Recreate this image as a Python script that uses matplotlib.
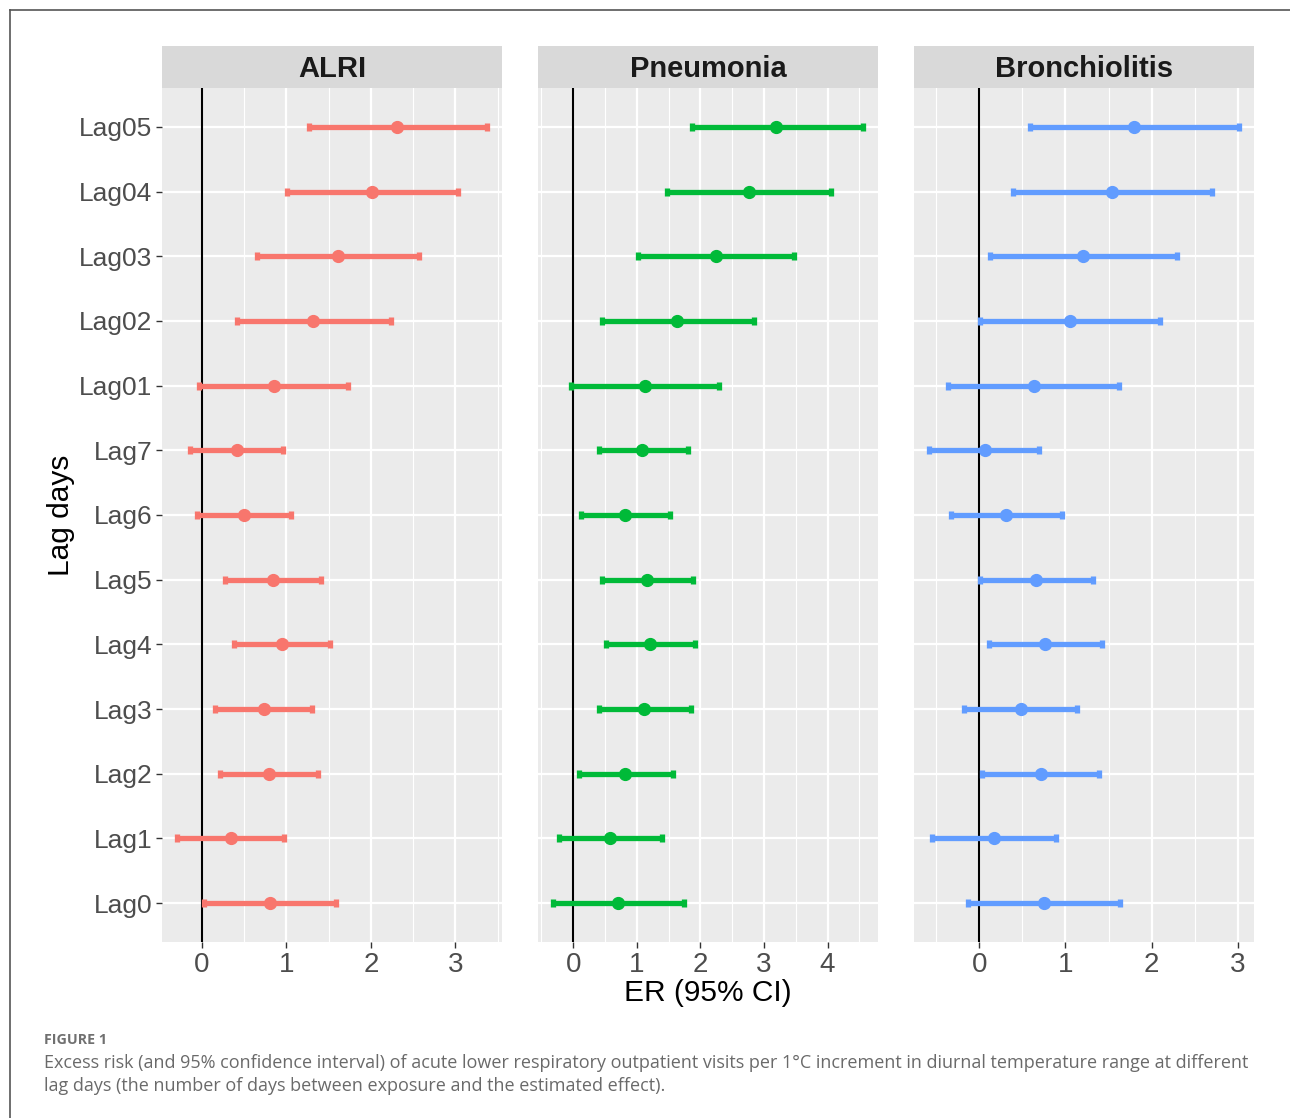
import matplotlib
matplotlib.use("Agg")
import matplotlib.pyplot as plt
from matplotlib.lines import Line2D
import numpy as np

# ---------------- data ----------------
lags = ["Lag0", "Lag1", "Lag2", "Lag3", "Lag4", "Lag5", "Lag6", "Lag7",
        "Lag01", "Lag02", "Lag03", "Lag04", "Lag05"]
panels = ["ALRI", "Pneumonia", "Bronchiolitis"]
colors = ["#F8766D", "#00BA38", "#619CFF"]

alri_est = [0.81, 0.34, 0.79, 0.73, 0.95, 0.84, 0.50, 0.41, 0.855, 1.32, 1.61, 2.01, 2.31]
alri_lo = [0.03, -0.29, 0.21, 0.16, 0.38, 0.27, -0.06, -0.145, -0.03, 0.41, 0.65, 1.01, 1.27]
alri_hi = [1.59, 0.975, 1.38, 1.30, 1.52, 1.41, 1.06, 0.965, 1.73, 2.24, 2.57, 3.03, 3.37]

pneu_est = [0.71, 0.58, 0.82, 1.12, 1.21, 1.16, 0.82, 1.09, 1.13, 1.64, 2.24, 2.76, 3.19]
pneu_lo = [-0.31, -0.22, 0.09, 0.41, 0.51, 0.45, 0.12, 0.40, -0.04, 0.45, 1.02, 1.48, 1.87]
pneu_hi = [1.74, 1.40, 1.57, 1.85, 1.92, 1.88, 1.53, 1.80, 2.29, 2.84, 3.47, 4.06, 4.55]

bron_est = [0.75, 0.17, 0.71, 0.48, 0.76, 0.66, 0.31, 0.06, 0.63, 1.05, 1.20, 1.54, 1.80]
bron_lo = [-0.13, -0.55, 0.03, -0.18, 0.11, 0.01, -0.33, -0.58, -0.36, 0.01, 0.12, 0.39, 0.59]
bron_hi = [1.63, 0.89, 1.39, 1.13, 1.42, 1.32, 0.96, 0.69, 1.62, 2.10, 2.30, 2.70, 3.01]

xticks = [[0, 1, 2, 3], [0, 1, 2, 3, 4], [0, 1, 2, 3]]

series = [(alri_est, alri_lo, alri_hi), (pneu_est, pneu_lo, pneu_hi), (bron_est, bron_lo, bron_hi)]

# ---------------- figure ----------------
W, H = 1290, 1118
fig = plt.figure(figsize=(W / 100, H / 100), dpi=100)
plt.rcParams['font.family'] = ['Liberation Sans', 'DejaVu Sans']

# outer frame
fig.add_artist(Line2D([10 / W, 1.0], [1 - 10 / H, 1 - 10 / H], transform=fig.transFigure,
                      color="#555555", lw=1.2))
fig.add_artist(Line2D([10 / W, 10 / W], [1 - 10 / H, 0.0], transform=fig.transFigure,
                      color="#555555", lw=1.2))

lefts = [162, 538, 914]
pw = 340
ptop, pbot = 88, 942
stop = 46
y = np.arange(len(lags))

for i, (name, col, (est, lo, hi)) in enumerate(zip(panels, colors, series)):
    ax = fig.add_axes([lefts[i] / W, 1 - pbot / H, pw / W, (pbot - ptop) / H])
    ax.set_facecolor("#EBEBEB")
    for s in ax.spines.values():
        s.set_visible(False)
    est = np.array(est); lo = np.array(lo); hi = np.array(hi)
    dmin, dmax = lo.min(), hi.max()
    rng = dmax - dmin
    ax.set_xticks(xticks[i])
    ax.set_xticks(np.arange(-0.5, 5.0, 1.0), minor=True)
    ax.set_yticks(y)
    ax.grid(True, which="major", color="white", lw=1.6)
    ax.grid(True, which="minor", axis="x", color="white", lw=0.8)
    ax.set_axisbelow(True)
    ax.tick_params(axis="both", which="major", length=4, width=1.0, color="#333333",
                   labelcolor="#4D4D4D", pad=3)
    ax.tick_params(axis="x", which="major", labelsize=20)
    ax.tick_params(axis="y", which="major", labelsize=19)
    ax.tick_params(axis="both", which="minor", length=0)
    if i == 0:
        ax.set_yticklabels(lags)
    else:
        ax.tick_params(axis="y", which="major", length=0, labelleft=False)
    ax.axvline(0, color="black", lw=1.5, zorder=2)
    ax.errorbar(est, y, xerr=[est - lo, hi - est], fmt="o", color=col, ecolor=col,
                elinewidth=3.8, capsize=3.0, capthick=3.8, markersize=8.5, zorder=3)
    ax.set_xlim(dmin - 0.05 * rng, dmax + 0.05 * rng)
    ax.set_ylim(-0.6, len(lags) - 1 + 0.6)

    # strip
    sax = fig.add_axes([lefts[i] / W, 1 - ptop / H, pw / W, (ptop - stop) / H])
    sax.set_facecolor("#D9D9D9")
    sax.set_xticks([]); sax.set_yticks([])
    for s in sax.spines.values():
        s.set_visible(False)
    sax.text(0.5, 0.45, name, transform=sax.transAxes, ha="center", va="center",
             fontsize=21, fontweight="bold", color="#1A1A1A")

fig.text(61 / W, 1 - 515 / H, "Lag days", rotation=90, ha="center", va="center",
         fontsize=21.5, color="black")
fig.text(708 / W, 1 - 993 / H, "ER (95% CI)", ha="center", va="center",
         fontsize=21.5, color="black")

# caption
fig.text(44 / W, 1 - 1040 / H, "FIGURE 1", ha="left", va="center", fontsize=10.3,
         fontweight="bold", color="#707070", family=["Open Sans", "DejaVu Sans"])
fig.text(44 / W, 1 - 1063 / H,
         "Excess risk (and 95% confidence interval) of acute lower respiratory outpatient visits per 1°C increment in diurnal temperature range at different",
         ha="left", va="center", fontsize=13.0, color="#6A6A6A", family=["Open Sans", "DejaVu Sans"])
fig.text(44 / W, 1 - 1086 / H,
         "lag days (the number of days between exposure and the estimated effect).",
         ha="left", va="center", fontsize=13.0, color="#6A6A6A", family=["Open Sans", "DejaVu Sans"])

fig.savefig("out.png", dpi=100)
